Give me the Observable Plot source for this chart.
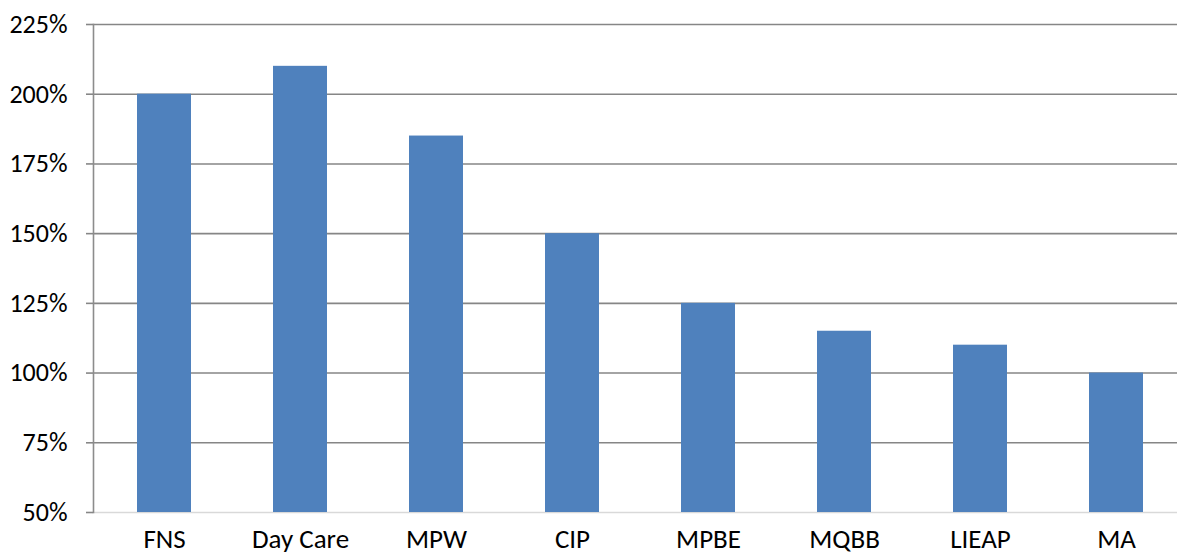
<!DOCTYPE html>
<html>
<head>
<meta charset="utf-8">
<script src="https://cdn.jsdelivr.net/npm/d3@7"></script>
<script src="https://cdn.jsdelivr.net/npm/@observablehq/plot@0.6"></script>
<style>
  html, body { margin: 0; padding: 0; background: #fff; overflow: hidden; }
  #chart svg { display: block; }
</style>
</head>
<body>
<div id="chart"></div>
<script>
const categories = ["FNS", "Day Care", "MPW", "CIP", "MPBE", "MQBB", "LIEAP", "MA"];
const values = [200, 210, 185, 150, 125, 115, 110, 100];
const yTicks = [50, 75, 100, 125, 150, 175, 200, 225];

const data = categories.map((c, i) => ({category: c, value: values[i]}));

const chart = Plot.plot({
  width: 1177,
  height: 556,
  marginLeft: 93,
  marginRight: 0,
  marginTop: 24,
  marginBottom: 44,
  style: {fontFamily: "Carlito, Calibri, 'Open Sans', sans-serif", fontSize: "26px", color: "#000", background: "#fff"},
  x: {domain: categories, range: [93, 1187], paddingInner: 0.6, paddingOuter: 0.3, label: null},
  y: {domain: [50, 225], label: null},
  marks: [
    Plot.ruleY(yTicks.filter(d => d > 50), {stroke: "#868686", strokeWidth: 1.6, strokeOpacity: 1}),
    Plot.ruleY([50], {stroke: "#d9d9d9", strokeWidth: 1.6, strokeOpacity: 1}),
    Plot.frame({anchor: "left", stroke: "#8c8c8c", strokeWidth: 1.6}),
    Plot.barY(data, {x: "category", y1: 50, y2: "value", fill: "#4F81BD"}),
    Plot.axisY({ticks: yTicks, tickFormat: d => d + "%", tickSize: 7, tickPadding: 19, stroke: "#868686", strokeWidth: 1.6, fill: "#000", label: null}),
    Plot.axisX({tickSize: 0, tickPadding: 16, fontSize: 27, fill: "#000", label: null})
  ]
});
document.getElementById("chart").appendChild(chart);
</script>
</body>
</html>
